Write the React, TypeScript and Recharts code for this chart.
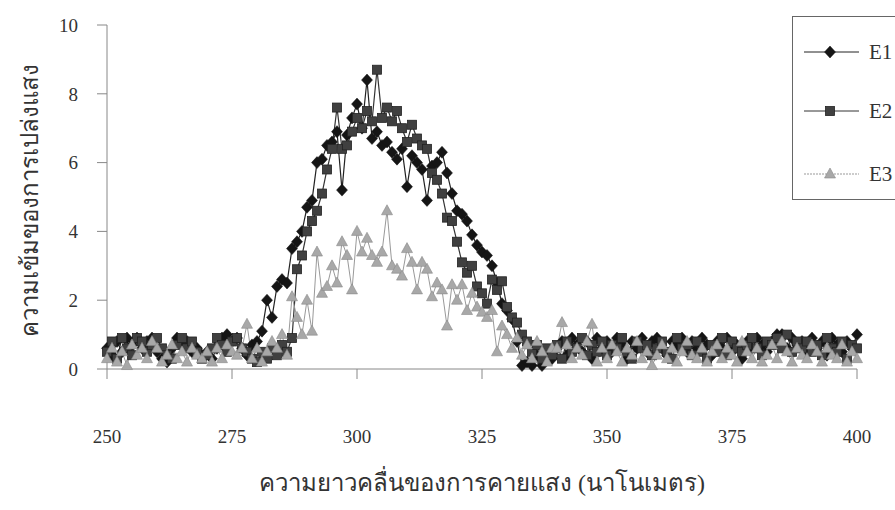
import React from "react";
import { LineChart, Line, XAxis, YAxis, Legend, Label } from "recharts";

const wavelengths: number[] = Array.from({ length: 151 }, (_, i) => 250 + i);

const e1Values: number[] = [
  0.6, 0.4, 0.8, 0.5, 0.9, 0.7, 0.9, 0.6, 0.8, 0.9,
  0.5, 0.3, 0.2, 0.6, 0.9, 0.7, 0.8, 0.5, 0.6, 0.4,
  0.5, 0.3, 0.6, 0.9, 1.0, 0.8, 0.9, 0.6, 0.4, 0.7,
  0.8, 1.1, 2.0, 1.5, 2.4, 2.6, 2.5, 3.5, 3.7, 4.0,
  4.7, 4.9, 6.0, 6.1, 6.5, 6.6, 6.9, 5.2, 6.8, 7.3,
  7.7, 7.0, 8.4, 6.7, 6.9, 6.5, 6.6, 6.3, 6.1, 6.4,
  5.3, 6.2, 6.0, 5.8, 4.9, 5.9, 6.0, 6.3, 5.7, 5.1,
  4.6, 4.5, 4.3, 3.9, 3.6, 3.4, 3.3, 3.0, 2.5, 1.9,
  1.7, 1.45, 0.8, 0.1, 0.2, 0.1, 0.4, 0.1, 0.5, 0.3,
  0.6, 0.8, 0.4, 0.9, 0.7, 0.5, 0.8, 0.3, 0.9, 0.6,
  0.8, 0.5, 0.9, 0.7, 0.3, 0.8, 0.6, 0.9, 0.5, 0.8,
  0.9, 0.6, 0.4, 0.8, 0.7, 0.9, 0.5, 0.8, 0.6, 0.9,
  0.7, 0.4, 0.8, 0.6, 0.9, 0.5, 0.7, 0.3, 0.8, 0.6,
  0.9, 0.7, 0.5, 0.8, 1.0, 1.0, 0.6, 0.9, 0.7, 0.8,
  0.5, 0.9, 0.6, 0.8, 0.4, 0.9, 0.7, 0.5, 0.8, 0.6,
  1.0,
];

const e2Values: number[] = [
  0.5, 0.8, 0.3, 0.9, 0.6, 0.4, 0.9, 0.8, 0.5, 0.7,
  0.9, 0.6, 0.4, 0.3, 0.7, 0.9, 0.6, 0.8, 0.5, 0.3,
  0.4, 0.6, 0.9, 0.7, 0.5, 0.8, 0.9, 0.6, 0.5, 0.3,
  0.2, 0.5, 0.3, 0.6, 0.4, 0.7, 0.5, 0.9, 2.9, 3.3,
  4.0, 4.3, 4.6, 5.1, 5.8, 6.4, 7.6, 6.4, 6.5, 6.9,
  7.3, 7.0, 7.5, 7.2, 8.7, 7.3, 7.6, 7.2, 7.5, 7.0,
  6.6, 7.1, 6.7, 6.5, 6.4, 5.7, 5.5, 5.1, 4.4, 4.3,
  3.7, 3.1, 2.8, 3.0, 2.4, 2.2, 1.9, 2.6, 2.3, 2.55,
  1.8, 1.5, 1.35, 1.0, 0.8, 0.5, 0.7, 0.3, 0.6, 0.4,
  0.7, 0.3, 0.8, 0.5, 0.6, 0.9, 0.4, 0.7, 0.5, 0.8,
  0.4, 0.7, 0.6, 0.9, 0.5, 0.3, 0.8, 0.6, 0.7, 0.4,
  0.6, 0.8, 0.5, 0.3, 0.9, 0.6, 0.7, 0.4, 0.8, 0.5,
  0.3, 0.7, 0.5, 0.9, 0.4, 0.8, 0.6, 0.5, 0.7, 0.9,
  0.6, 0.4, 0.8, 0.7, 0.9, 0.6, 1.0, 0.5, 0.8, 0.6,
  0.8, 0.5, 0.7, 0.4, 0.9, 0.6, 0.5, 0.8, 0.3, 0.7,
  0.6,
];

const e3Values: number[] = [
  0.3, 0.6, 0.2, 0.5, 0.1, 0.7, 0.4, 0.6, 0.3, 0.8,
  0.6, 0.2, 0.4, 0.7, 0.3, 0.5, 0.2, 0.6, 0.4, 0.3,
  0.5, 0.2, 0.6, 0.3, 0.7, 0.5, 0.4, 0.6, 1.3, 0.3,
  0.6, 0.2, 0.5, 0.8, 0.6, 1.0, 0.4, 2.1, 1.5, 1.0,
  2.0, 1.1, 3.4, 2.2, 2.4, 3.0, 2.5, 3.7, 3.3, 2.3,
  4.0, 3.4, 3.8, 3.3, 3.1, 3.4, 4.6, 3.0, 2.9, 2.7,
  3.5, 3.1, 2.3, 3.1, 2.9, 2.1, 2.5, 2.3, 1.25, 2.45,
  2.0, 2.45, 1.7, 2.2, 1.8, 1.65, 1.5, 1.7, 0.5, 1.25,
  1.0, 0.6, 0.9, 0.4, 0.7, 0.3, 0.8, 0.5, 0.2, 0.6,
  0.6, 1.35, 0.7, 0.3, 0.6, 0.4, 0.8, 1.3, 0.2, 0.6,
  0.3, 0.7, 0.5, 0.2, 0.6, 0.4, 0.8, 0.3, 0.5, 0.1,
  0.4, 0.7, 0.3, 0.6, 0.2, 0.5, 0.8, 0.4, 0.3, 0.6,
  0.2, 0.5, 0.7, 0.3, 0.6, 0.4, 0.2, 0.8, 0.5, 0.3,
  0.6, 0.2, 0.4, 0.7, 0.3, 0.8, 0.5, 0.2, 0.6, 0.4,
  0.3, 0.7, 0.5, 0.2, 0.6, 0.4, 0.3, 0.7, 0.2, 0.5,
  0.3,
];

const xTicks: number[] = [250, 275, 300, 325, 350, 375, 400];
const yTicks: number[] = [0, 2, 4, 6, 8, 10];
const seriesNames: string[] = ["E1", "E2", "E3"];

const xTitle = "ความยาวคลื่นของการคายแสง (นาโนเมตร)";
const yTitle = "ความเข้มของการเปล่งแสง";

const data = wavelengths.map((w, i) => ({
  w,
  E1: e1Values[i],
  E2: e2Values[i],
  E3: e3Values[i],
}));

const SERIF = "'Liberation Serif', 'Times New Roman', serif";

const Diamond = (props: any) => {
  const { cx, cy } = props;
  if (cx == null || cy == null) return null;
  return (
    <polygon
      points={`${cx},${cy - 6} ${cx + 5.5},${cy} ${cx},${cy + 6} ${cx - 5.5},${cy}`}
      fill="#151515"
      stroke="#151515"
      strokeWidth={0.5}
    />
  );
};

const Square = (props: any) => {
  const { cx, cy } = props;
  if (cx == null || cy == null) return null;
  return <rect x={cx - 4.5} y={cy - 4.5} width={9} height={9} fill="#404040" stroke="#222" strokeWidth={0.8} />;
};

const Triangle = (props: any) => {
  const { cx, cy } = props;
  if (cx == null || cy == null) return null;
  return (
    <polygon
      points={`${cx},${cy - 6} ${cx + 5.5},${cy + 4} ${cx - 5.5},${cy + 4}`}
      fill="#a8a8a8"
      stroke="#8a8a8a"
      strokeWidth={0.6}
    />
  );
};

const legendStyles = [
  { stroke: "#222", dash: undefined as string | undefined, Marker: Diamond },
  { stroke: "#333", dash: undefined as string | undefined, Marker: Square },
  { stroke: "#999", dash: "2 1", Marker: Triangle },
];

const LegendBox = () => (
  <div
    style={{
      position: "relative",
      width: 103,
      height: 184,
      borderTop: "1px solid #666",
      borderLeft: "1px solid #666",
      borderBottom: "1px solid #666",
      background: "#fff",
      overflow: "hidden",
      boxSizing: "border-box",
    }}
  >
    {seriesNames.map((name, i) => {
      const st = legendStyles[i];
      const M = st.Marker;
      const top = [35, 94, 157][i];
      return (
        <div key={name} style={{ position: "absolute", left: 0, top: top - 11, height: 22, width: 103 }}>
          <svg width={70} height={22} style={{ position: "absolute", left: 0, top: 0 }}>
            <line x1={11} y1={11} x2={66} y2={11} stroke={st.stroke} strokeWidth={1} strokeDasharray={st.dash} />
            <M cx={37} cy={11} />
          </svg>
          <span
            style={{
              position: "absolute",
              left: 76,
              top: 0,
              lineHeight: "22px",
              fontFamily: SERIF,
              fontSize: 21,
              color: "#333",
              whiteSpace: "nowrap",
            }}
          >
            {name}
          </span>
        </div>
      );
    })}
  </div>
);

const XTick = (props: any) => {
  const { x, y, payload } = props;
  return (
    <text x={x} y={y} dy="0.71em" textAnchor="middle" fontFamily={SERIF} fontSize={19} fill="#333">
      {payload.value}
    </text>
  );
};

const YTitle = (props: any) => {
  const { viewBox } = props;
  const cx = viewBox.x + 30;
  const cy = viewBox.y + viewBox.height / 2 + 3;
  return (
    <text
      x={cx}
      y={cy}
      transform={`rotate(-90, ${cx}, ${cy})`}
      textAnchor="middle"
      dominantBaseline="central"
      fontFamily={SERIF}
      fontSize={24}
      fill="#333"
    >
      {yTitle}
    </text>
  );
};

const XTitle = (props: any) => {
  const { viewBox } = props;
  const cx = viewBox.x + viewBox.width / 2;
  const cy = viewBox.y + 114;
  return (
    <text x={cx} y={cy} textAnchor="middle" dominantBaseline="central" fontFamily={SERIF} fontSize={24} fill="#333">
      {xTitle}
    </text>
  );
};

export default function App() {
  return (
    <div style={{ position: "absolute", left: 0, top: 0, width: 895, height: 510, background: "#fff" }}>
      <LineChart width={895} height={510} data={data} margin={{ top: 25, right: 38, bottom: 0, left: 0 }}>
        <XAxis
          dataKey="w"
          type="number"
          domain={[250, 400]}
          ticks={xTicks}
          interval={0}
          height={141}
          tickSize={10}
          tickMargin={51}
          stroke="#888"
          tick={<XTick />}
          tickLine={{ stroke: "#888" }}
        >
          <Label content={<XTitle />} />
        </XAxis>
        <YAxis
          type="number"
          domain={[0, 10]}
          ticks={yTicks}
          interval={0}
          width={107}
          tickSize={10}
          tickMargin={19}
          stroke="#888"
          tick={{ fontFamily: SERIF, fontSize: 19, fill: "#333" }}
          tickLine={{ stroke: "#888" }}
        >
          <Label content={<YTitle />} />
        </YAxis>
        <Legend
          layout="vertical"
          align="center"
          verticalAlign="middle"
          content={<LegendBox />}
          wrapperStyle={{ left: 792, top: 16, width: 103, height: 184 }}
        />
        <Line
          type="linear"
          dataKey="E1"
          name="E1"
          stroke="#222"
          strokeWidth={1.2}
          dot={<Diamond />}
          activeDot={false}
          isAnimationActive={false}
        />
        <Line
          type="linear"
          dataKey="E2"
          name="E2"
          stroke="#333"
          strokeWidth={1.2}
          dot={<Square />}
          activeDot={false}
          isAnimationActive={false}
        />
        <Line
          type="linear"
          dataKey="E3"
          name="E3"
          stroke="#999"
          strokeWidth={1}
          dot={<Triangle />}
          activeDot={false}
          isAnimationActive={false}
        />
      </LineChart>
    </div>
  );
}
